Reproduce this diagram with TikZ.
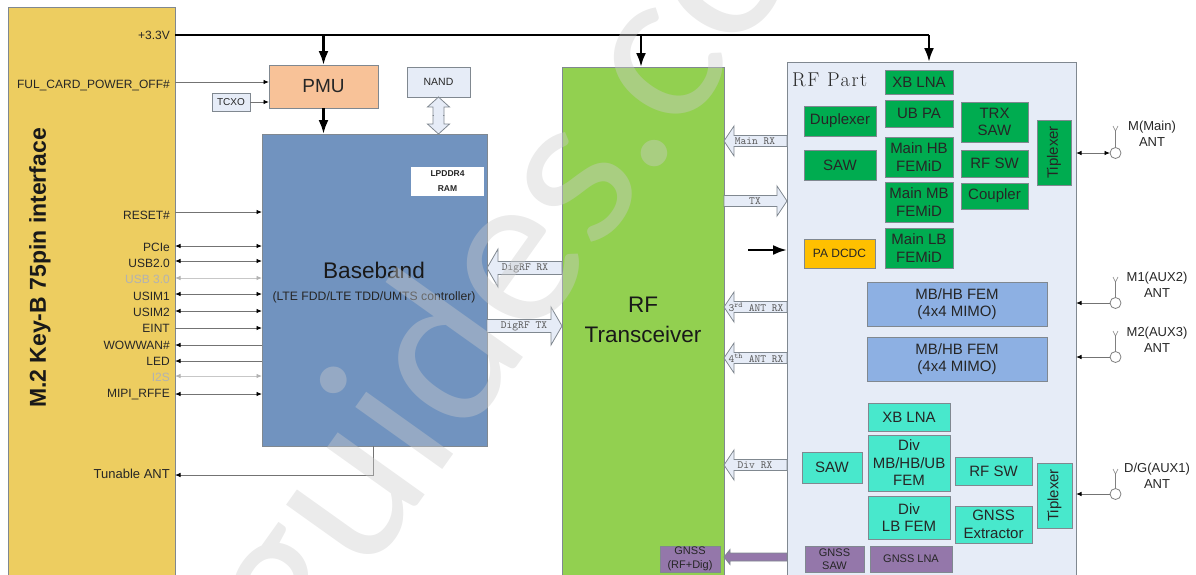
\documentclass[tikz,border=0pt]{standalone}
\usepackage{fontspec}
\setmainfont{Liberation Sans}
\newfontfamily\rfserif[LetterSpace=8]{Latin Modern Roman}
\newfontfamily\wmfont{Lato}
\setmonofont{Latin Modern Mono}
\usetikzlibrary{arrows.meta,calc}
\definecolor{cyellow}{HTML}{EDCD60}
\definecolor{cpmu}{HTML}{F8C298}
\definecolor{cpale}{HTML}{E6ECF7}
\definecolor{cbb}{HTML}{7193BF}
\definecolor{crf}{HTML}{92D050}
\definecolor{cgreen}{HTML}{00AC50}
\definecolor{cteal}{HTML}{48E8CC}
\definecolor{cfem}{HTML}{8DB0E3}
\definecolor{cpurple}{HTML}{9477AA}
\definecolor{corange}{HTML}{FFC000}
\definecolor{cline}{HTML}{808890}
\tikzset{
  x=1pt,y=-1pt,
  block/.style={draw=cline,line width=0.8pt,inner sep=0pt,outer sep=0pt,align=center,font=\fontsize{15}{17.5}\selectfont,text=black!85},
  gbox/.style={block,fill=cgreen},
  tbox/.style={block,fill=cteal},
  fbox/.style={block,fill=cfem},
  pbox/.style={block,fill=cpurple,font=\fontsize{11}{13.5}\selectfont},
  sigtxt/.style={inner sep=0pt,anchor=base east,font=\fontsize{12}{14}\selectfont,text=black!85},
  dimtxt/.style={sigtxt,text=black!30},
  sigline/.style={draw=black!55,line width=0.9pt},
  oneway/.style={sigline,-{Latex[length=5.5pt,width=4.5pt,black]}},
  backway/.style={sigline,{Latex[length=5.5pt,width=4.5pt,black]}-},
  twoway/.style={sigline,{Latex[length=5.5pt,width=4.5pt,black]}-{Latex[length=5.5pt,width=4.5pt,black]}},
  dimway/.style={draw=black!22,line width=0.9pt,{Latex[length=5.5pt,width=4.5pt,black!30]}-{Latex[length=5.5pt,width=4.5pt,black!30]}},
  power/.style={draw=black,line width=2.5pt,-{Latex[length=14pt,width=10pt]}},
  hollow/.style={draw=cline,fill=cpale,line width=0.8pt},
  hollowp/.style={draw=cline,fill=cpurple,line width=0.8pt},
  monotxt/.style={inner sep=0pt,font=\ttfamily\fontsize{11}{13}\selectfont,text=black!65},
  anttxt/.style={inner sep=0pt,align=center,font=\fontsize{13}{16.5}\selectfont,text=black!85},
  antcirc/.style={draw=black!50,fill=white,line width=0.8pt,circle,minimum size=11pt,inner sep=0pt,outer sep=0pt},
  antline/.style={draw=black!50,line width=0.8pt},
  mark wm/.style={opacity=.4,text=black!20,inner sep=0pt}
}
\newcommand\bx[6]{\node[#6,minimum width={(#4-#2)*1pt},minimum height={(#5-#3)*1pt}] (#1) at ({(#2+#4)/2},{(#3+#5)/2}) {};}
\newcommand\tbx[7]{\node[#6,minimum width={(#4-#2)*1pt},minimum height={(#5-#3)*1pt}] (#1) at ({(#2+#4)/2},{(#3+#5)/2}) {#7};}
\newcommand\rbx[7]{\node[#6,rotate=90,minimum width={(#5-#3)*1pt},minimum height={(#4-#2)*1pt}] (#1) at ({(#2+#4)/2},{(#3+#5)/2}) {#7};}
% hollow block arrow between two named points: from, to, half shaft, half head, head length, style
\newcommand\harrow[6]{%
  \coordinate (hb) at ($(#2)!#5pt!(#1)$);
  \draw[#6] ($(#1)!#3pt!90:(#2)$) -- ($(hb)!#3pt!90:(#2)$) -- ($(hb)!#4pt!90:(#2)$) -- (#2) -- ($(hb)!#4pt!-90:(#2)$) -- ($(hb)!#3pt!-90:(#2)$) -- ($(#1)!#3pt!-90:(#2)$) -- cycle;}
% signal row: line y, text y, label, text style, line style
\newcommand\sig[5]{%
  \coordinate (l#1) at (mtwo.east |- 0,#1);
  \coordinate (r#1) at (bb.west |- 0,#1);
  \node[#4] (t#1) at (170,#2+4.3) {#3};
  \draw[#5] (l#1) -- (r#1);}
\newcommand\ant[6]{% name, circle y, top y, text x, text y, text
  \node[antcirc] (#1c) at (1115.5,#2) {};
  \coordinate (#1t) at (1115.5,#3);
  \draw[antline] (#1c) -- (#1t);
  \draw[antline,line width=.6pt] (#1t) -- ++(-2.5,-5) (#1t) -- ++(2.5,-5);
  \node[anttxt] (#1l) at (#4,#5) {#6};}
\begin{document}
\begin{tikzpicture}
\useasboundingbox (0,0) rectangle (1196,574);
\clip (0,0) rectangle (1196,574);
% main blocks
\bx{mtwo}{8}{7}{175}{590}{block,fill=cyellow}
\node[inner sep=0pt,rotate=90,font=\bfseries\fontsize{23}{26}\selectfont,text=black!90] (mtitle) at (40,268) {M.2 Key-B 75pin interface};
\tbx{pmu}{269}{65}{378}{108}{block,fill=cpmu,font=\fontsize{19}{22}\selectfont}{PMU}
\tbx{nand}{407}{67}{470}{97}{block,fill=cpale,font=\fontsize{10.5}{13}\selectfont}{NAND}
\tbx{tcxo}{212}{93}{250}{111}{block,fill=cpale,font=\fontsize{10}{12}\selectfont}{TCXO}
\bx{bb}{262}{134}{487}{446}{block,fill=cbb}
\node[inner sep=0pt,font=\fontsize{22.6}{26}\selectfont,text=black!90] (bbt) at (374,270) {Baseband};
\node[inner sep=0pt,font=\fontsize{12.2}{14}\selectfont,text=black!85] (bbs) at (374,297) {(LTE FDD/LTE TDD/UMTS controller)};
\tbx{ram}{411}{167}{484}{196}{block,fill=white,draw=none,font=\bfseries\fontsize{8.5}{15}\selectfont}{LPDDR4\\RAM}
\bx{rft}{562}{67}{724}{590}{block,fill=crf}
\node[inner sep=0pt,align=center,font=\fontsize{22.5}{30}\selectfont,text=black!90] (rftt) at (643,320) {RF\\Transceiver};
\bx{rfp}{787}{62}{1076}{590}{block,fill=cpale}
\node[inner sep=0pt,anchor=base west,font=\rfserif\fontsize{20}{22}\selectfont,text=black!85] (rfpt) at (792,86) {RF Part};
% RF part: main side
\tbx{xblna}{885}{70}{953}{94}{gbox}{XB LNA}
\tbx{ubpa}{885}{100}{953}{127}{gbox}{UB PA}
\tbx{hb}{885}{137}{953}{177}{gbox}{Main HB\\FEMiD}
\tbx{mb}{885}{182}{953}{222}{gbox}{Main MB\\FEMiD}
\tbx{lb}{885}{228}{953}{268}{gbox}{Main LB\\FEMiD}
\tbx{trx}{961}{102}{1028}{142}{gbox}{TRX\\SAW}
\tbx{rfsw}{961}{150}{1028}{177}{gbox}{RF SW}
\tbx{coup}{961}{183}{1028}{209}{gbox}{Coupler}
\rbx{tip}{1037}{120}{1071}{185}{gbox}{Tiplexer}
\tbx{dup}{804}{106}{876}{136}{gbox}{Duplexer}
\tbx{saw}{804}{150}{876}{180}{gbox}{SAW}
\tbx{pa}{804}{239}{875}{268}{block,fill=corange,font=\fontsize{12}{14}\selectfont}{PA DCDC}
\tbx{femA}{867}{282}{1047}{326}{fbox}{MB/HB FEM\\(4x4 MIMO)}
\tbx{femB}{867}{337}{1047}{381}{fbox}{MB/HB FEM\\(4x4 MIMO)}
% RF part: diversity side
\tbx{xblnaB}{868}{403}{950}{431}{tbox}{XB LNA}
\tbx{divA}{868}{435}{950}{491}{tbox}{Div\\MB/HB/UB\\FEM}
\tbx{divB}{868}{496}{950}{539}{tbox}{Div\\LB FEM}
\tbx{sawB}{802}{452}{862}{483}{tbox}{SAW}
\tbx{rfswB}{955}{457}{1032}{485}{tbox}{RF SW}
\tbx{gext}{955}{506}{1032}{543}{tbox}{GNSS\\Extractor}
\rbx{tipB}{1037}{463}{1072}{528}{tbox}{Tiplexer}
\tbx{gsaw}{805}{546}{864}{572}{pbox}{GNSS\\SAW}
\tbx{glna}{870}{546}{952}{572}{pbox}{GNSS LNA}
\tbx{grf}{660}{546}{720}{572}{pbox}{GNSS\\(RF+Dig)}
% power rail
\coordinate (railL) at (mtwo.east |- 0,35);
\coordinate (railR) at (929,35);
\node[sigtxt] (v33) at (170,39.3) {+3.3V};
\draw[draw=black,line width=2.5pt] (railL) -- (railR);
\draw[power] (pmu.north |- railL) -- (pmu.north);
\draw[power] (641,35) -- (641,67);
\draw[power] (railR) -- (929,62);
\draw[power] (pmu.south) -- (pmu.south |- bb.north);
\coordinate (paL) at (748,250);
\draw[power] (paL) -- (rfp.west |- 0,250);
% left signals
\coordinate (fulL) at (mtwo.east |- 0,82);
\node[sigtxt] (fult) at (170,84.5+4.3) {FUL\_CARD\_POWER\_OFF\#};
\draw[oneway] (fulL) -- (pmu.west |- fulL);
\draw[oneway] (tcxo.east) -- (pmu.west |- tcxo.east);
\sig{212}{215}{RESET\#}{sigtxt}{oneway}
\sig{246}{247}{PCIe}{sigtxt}{twoway}
\sig{261}{263}{USB2.0}{sigtxt}{twoway}
\sig{278}{279}{USB 3.0}{dimtxt}{dimway}
\sig{294}{296}{USIM1}{sigtxt}{twoway}
\sig{311}{312}{USIM2}{sigtxt}{twoway}
\sig{328}{328}{EINT}{sigtxt}{oneway}
\sig{345}{345}{WOWWAN\#}{sigtxt}{backway}
\sig{361}{361}{LED}{sigtxt}{backway}
\sig{376}{377}{I2S}{dimtxt}{dimway}
\sig{394}{393}{MIPI\_RFFE}{sigtxt}{twoway}
\node[sigtxt,font=\fontsize{13}{15}\selectfont] (tune) at (170,474+4.6) {Tunable ANT};
\coordinate (tuneB) at (373,446);
\draw[backway] (mtwo.east |- 0,475) -- (373,475) -- (tuneB);
% hollow block arrows
\coordinate (nA) at (nand.south);
\coordinate (nB) at (nand.south |- bb.north);
\coordinate (nM) at ($(nA)!.5!(nB)$);
\harrow{nM}{nA}{5.5}{11}{10}{hollow}
\harrow{nM}{nB}{5.5}{11}{10}{hollow}
\draw[cpale,line width=9.5pt,shorten <=-1pt,shorten >=-1pt] ($(nM)+(0,-4)$) -- ($(nM)+(0,4)$);
\coordinate (a1) at (rfp.west |- 0,141);  \coordinate (b1) at (rft.east |- 0,141);
\harrow{a1}{b1}{5.5}{15}{10}{hollow}
\node[monotxt] (l1) at (755,141) {Main RX};
\coordinate (a2) at (rft.east |- 0,201);  \coordinate (b2) at (rfp.west |- 0,201);
\harrow{a2}{b2}{5.5}{15}{10}{hollow}
\node[monotxt] (l2) at (755,201) {TX};
\coordinate (a3) at (rfp.west |- 0,307);  \coordinate (b3) at (rft.east |- 0,307);
\harrow{a3}{b3}{5.5}{15}{10}{hollow}
\node[monotxt] (l3) at (756,307) {3\textsuperscript{rd} ANT RX};
\coordinate (a4) at (rfp.west |- 0,358);  \coordinate (b4) at (rft.east |- 0,358);
\harrow{a4}{b4}{5.5}{15}{10}{hollow}
\node[monotxt] (l4) at (756,358) {4\textsuperscript{th} ANT RX};
\coordinate (a5) at (rfp.west |- 0,465);  \coordinate (b5) at (rft.east |- 0,465);
\harrow{a5}{b5}{5.5}{15}{10}{hollow}
\node[monotxt] (l5) at (755,465) {Div RX};
\coordinate (a6) at (rft.west |- 0,268);  \coordinate (b6) at (bb.east |- 0,268);
\harrow{a6}{b6}{6.5}{19}{11}{hollow}
\node[monotxt] (l6) at (525,268) {DigRF RX};
\coordinate (a7) at (bb.east |- 0,326);  \coordinate (b7) at (rft.west |- 0,326);
\harrow{a7}{b7}{6.5}{19}{11}{hollow}
\node[monotxt] (l7) at (524,326) {DigRF TX};
\coordinate (a8) at (rfp.west |- 0,557);  \coordinate (b8) at (rft.east |- 0,557);
\harrow{a8}{b8}{4}{7.5}{6}{hollowp}
% antennas
\ant{m}{153}{131}{1152}{134}{M(Main)\\ANT}
\draw[twoway] (rfp.east |- mc) -- (mc);
\ant{mo}{303}{282}{1157}{285}{M1(AUX2)\\ANT}
\draw[backway] (rfp.east |- moc) -- (moc);
\ant{mt}{357}{336}{1157}{340}{M2(AUX3)\\ANT}
\draw[backway] (rfp.east |- mtc) -- (mtc);
\ant{dg}{494}{474}{1157}{476}{D/G(AUX1)\\ANT}
\draw[backway] (rfp.east |- dgc) -- (dgc);
% watermark
\node[mark wm,rotate=54.5,anchor=base west,font=\wmfont\fontsize{211}{211}\selectfont] (wm) at (301.5,668) {guides.co};
\end{tikzpicture}
\end{document}
